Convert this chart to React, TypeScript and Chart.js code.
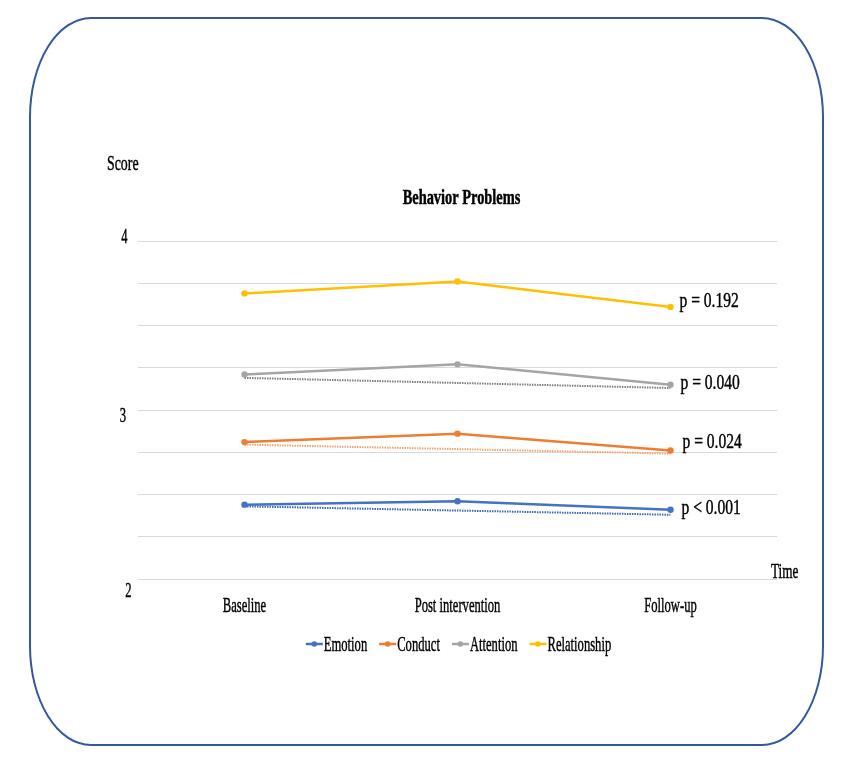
import React, { useEffect, useRef } from 'react';
import { Chart, registerables } from 'chart.js';

Chart.register(...registerables);

const categories = ['Baseline', 'Post intervention', 'Follow-up'];
const seriesNames = ['Emotion', 'Conduct', 'Attention', 'Relationship'];
const emotion = [2.44, 2.46, 2.41];
const conduct = [2.81, 2.86, 2.76];
const attention = [3.21, 3.27, 3.15];
const relationship = [3.69, 3.76, 3.61];
const emotionTrend = [2.43, null, 2.38];
const conductTrend = [2.795, null, 2.742];
const attentionTrend = [3.19, null, 3.13];
const pLabels = ['p < 0.001', 'p = 0.024', 'p = 0.040', 'p = 0.192'];
const yTickLabels = [2, 3, 4];
const colors = ['#4472C4', '#ED7D31', '#A5A5A5', '#FFC000'];
const trendColors = ['#3E68B8', '#F2A46E', '#7F7F7F'];

const SERIF = '"Liberation Serif", "Times New Roman", serif';

function drawText(ctx: CanvasRenderingContext2D, text: string, x: number, y: number, size: number, sx: number, align: CanvasTextAlign, bold = false) {
  ctx.save();
  ctx.font = `${bold ? 'bold ' : ''}${size}px ${SERIF}`;
  ctx.textBaseline = 'middle';
  ctx.fillStyle = '#000';
  ctx.strokeStyle = '#000';
  ctx.lineWidth = 0.45;
  ctx.translate(x, y);
  ctx.scale(sx, 1);
  ctx.textAlign = align;
  ctx.fillText(text, 0, 0);
  ctx.strokeText(text, 0, 0);
  ctx.restore();
}

const textPlugin = {
  id: 'textPlugin',
  afterDraw(chart: any) {
    const ctx: CanvasRenderingContext2D = chart.ctx;
    const xs = chart.scales.x;
    const ys = chart.scales.y;
    const area = chart.chartArea;
    const cx = (area.left + area.right) / 2;

    drawText(ctx, 'Score', 107, 164, 22, 0.63, 'left');
    drawText(ctx, 'Time', area.right - 6, area.bottom - 7, 22, 0.6, 'left');
    drawText(ctx, 'Behavior Problems', cx + 4, 199, 20, 0.72, 'center', true);

    const yNudge: Record<number, [number, number]> = { 4: [124.5, -4], 3: [123, 6], 2: [128.5, 12] };
    yTickLabels.forEach((v) => {
      const [x, dy] = yNudge[v];
      drawText(ctx, String(v), x, ys.getPixelForValue(v) + dy, 21, 0.6, 'center');
    });

    categories.forEach((c, i) => {
      drawText(ctx, c, xs.getPixelForValue(i), area.bottom + 27, 21, 0.6, 'center');
    });

    const series = [emotion, conduct, attention, relationship];
    const pNudge = [-1, -8, -1, -5];
    const pX = [11, 12, 10, 9];
    pLabels.forEach((t, i) => {
      const px = xs.getPixelForValue(2) + pX[i];
      const py = ys.getPixelForValue(series[i][2]) + pNudge[i];
      drawText(ctx, t, px, py, 21, 0.74, 'left');
    });

    ctx.save();
    ctx.font = `21px ${SERIF}`;
    const widths = seriesNames.map((n) => ctx.measureText(n).width * 0.6);
    ctx.restore();
    const marker = 17;
    const gap = 12;
    const total = widths.reduce((a, w) => a + marker + 1 + w, 0) + gap * (seriesNames.length - 1);
    let x = cx + 1 - total / 2;
    const ly = 645;
    seriesNames.forEach((n, i) => {
      ctx.save();
      ctx.strokeStyle = colors[i];
      ctx.lineWidth = 2.5;
      ctx.beginPath();
      ctx.moveTo(x, ly - 1);
      ctx.lineTo(x + marker, ly - 1);
      ctx.stroke();
      ctx.fillStyle = colors[i];
      ctx.beginPath();
      ctx.arc(x + marker / 2, ly - 1, 2.8, 0, Math.PI * 2);
      ctx.fill();
      ctx.restore();
      drawText(ctx, n, x + marker + 1, ly, 21, 0.6, 'left');
      x += marker + 1 + widths[i] + gap;
    });
  },
};

export default function App() {
  const ref = useRef<HTMLCanvasElement>(null);

  useEffect(() => {
    const canvas = ref.current!;
    const mainSeries = [emotion, conduct, attention, relationship];
    const trends = [emotionTrend, conductTrend, attentionTrend];
    const datasets: any[] = [];
    mainSeries.forEach((d, i) => {
      datasets.push({
        label: seriesNames[i],
        data: d,
        borderColor: colors[i],
        backgroundColor: colors[i],
        borderWidth: 2.5,
        pointRadius: 3.2,
        pointStyle: 'circle',
        pointBorderWidth: 0,
        tension: 0,
        order: 0,
      });
    });
    trends.forEach((d, i) => {
      datasets.push({
        label: seriesNames[i] + ' trend',
        data: d,
        borderColor: trendColors[i],
        borderWidth: 2,
        borderDash: [1.5, 1],
        pointRadius: 0,
        spanGaps: true,
        tension: 0,
        order: 1,
      });
    });

    const chart = new Chart(canvas, {
      type: 'line',
      data: { labels: categories, datasets },
      options: {
        responsive: false,
        animation: false,
        devicePixelRatio: 1,
        layout: { padding: { left: 138, right: 69, top: 241, bottom: 194 } },
        plugins: { legend: { display: false }, tooltip: { enabled: false }, title: { display: false } },
        scales: {
          x: { display: false, offset: true },
          y: {
            min: 2,
            max: 4,
            ticks: { display: false, stepSize: 0.25 },
            border: { display: false },
            grid: { color: '#D9D9D9', lineWidth: 1, drawTicks: false },
          },
        },
      },
      plugins: [textPlugin],
    });
    return () => chart.destroy();
  }, []);

  return (
    <div style={{ position: 'fixed', left: 0, top: 0, width: 846, height: 773, background: '#fff' }}>
      <div
        style={{
          position: 'absolute',
          left: 29,
          top: 17,
          width: 795,
          height: 729,
          boxSizing: 'border-box',
          border: '2.5px solid #34589A',
          borderRadius: '62px / 100px',
        }}
      />
      <canvas ref={ref} width={846} height={773} style={{ position: 'absolute', left: 0, top: 0 }} />
    </div>
  );
}
